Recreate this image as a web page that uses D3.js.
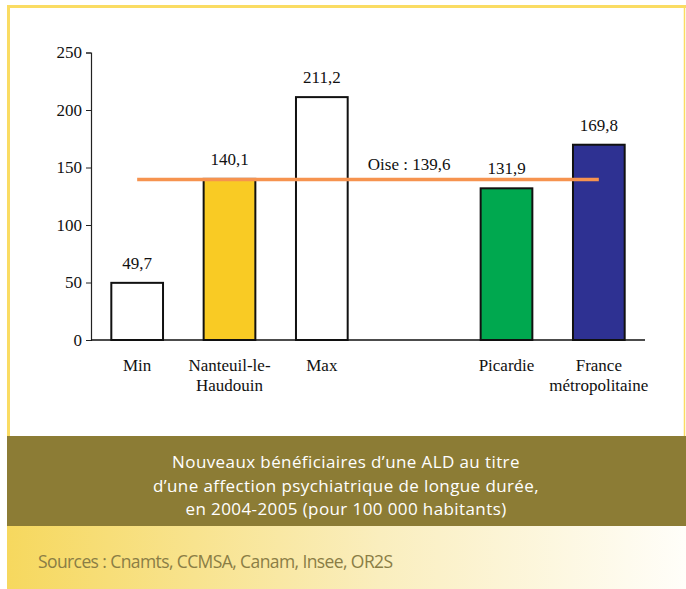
<!DOCTYPE html>
<html>
<head>
<meta charset="utf-8">
<script src="https://cdn.jsdelivr.net/npm/d3@7"></script>
<style>
    body { margin: 0; background: #fff; }
    svg { display: block; }
</style>
</head>
<body>
<div id="chart"></div>
<script>
// data
var categories = ["Min", "Nanteuil-le-Haudouin", "Max", "", "Picardie", "France métropolitaine"];
var labelLines = [["Min"], ["Nanteuil-le-", "Haudouin"], ["Max"], [], ["Picardie"], ["France", "métropolitaine"]];
var values = [49.7, 140.1, 211.2, null, 131.9, 169.8];
var barColors = ["#ffffff", "#f9cb24", "#ffffff", "none", "#00a84f", "#2e3192"];
var oiseValue = 139.6;
var yTicks = [0, 50, 100, 150, 200, 250];
var captionLines = ["Nouveaux bénéficiaires d’une ALD au titre",
    "d’une affection psychiatrique de longue durée,",
    "en 2004-2005 (pour 100 000 habitants)"];
var sourceText = "Sources : Cnamts, CCMSA, Canam, Insee, OR2S";

var width = 686, height = 589;

var svg = d3.select("#chart").append("svg")
    .attr("width", width)
    .attr("height", height);

var defs = svg.append("defs");
var grad = defs.append("linearGradient").attr("id", "srcGrad")
    .attr("x1", "0%").attr("x2", "100%").attr("y1", "0%").attr("y2", "0%");
grad.append("stop").attr("offset", "0%").attr("stop-color", "#f6d85e");
grad.append("stop").attr("offset", "55%").attr("stop-color", "#faeebe");
grad.append("stop").attr("offset", "100%").attr("stop-color", "#fffef9");

// frame
svg.append("path")
    .attr("d", "M8.5,440 L8.5,6.5 L686,6.5")
    .attr("fill", "none")
    .attr("stroke", "#fadc63")
    .attr("stroke-width", 3);
svg.append("line")
    .attr("x1", 684.5).attr("x2", 684.5).attr("y1", 6).attr("y2", 440)
    .attr("stroke", "#fadc63").attr("stroke-width", 1.5);

// caption band
svg.append("rect").attr("x", 7).attr("y", 436).attr("width", width - 7).attr("height", 90)
    .attr("fill", "#8c7c35");
svg.append("g").selectAll("text")
    .data(captionLines)
    .enter().append("text")
    .attr("x", 346)
    .attr("y", function (d, i) { return 468 + i * 23.5; })
    .attr("text-anchor", "middle")
    .attr("fill", "#ffffff")
    .style("font-family", "'Open Sans', sans-serif")
    .style("font-size", "17px")
    .style("letter-spacing", "0.4px")
    .text(function (d) { return d; });

// sources band
svg.append("rect").attr("x", 7).attr("y", 526).attr("width", width - 7).attr("height", height - 526)
    .attr("fill", "url(#srcGrad)");
svg.append("text")
    .attr("x", 38).attr("y", 568)
    .attr("fill", "#8a7d45")
    .style("font-family", "'Open Sans', sans-serif")
    .style("font-size", "17.5px")
    .style("letter-spacing", "-0.6px")
    .text(sourceText);

// chart
var x = d3.scaleBand()
    .domain(categories)
    .range([91, 645])
    .paddingInner(0.44)
    .paddingOuter(0.22);

var y = d3.scaleLinear()
    .domain([0, 250])
    .range([340, 52.5]);

var font = "'Liberation Serif', 'Times New Roman', serif";
var fs = "17px";

var yAxis = svg.append("g")
    .attr("transform", "translate(91,0)")
    .call(d3.axisLeft(y).tickValues(yTicks).tickSize(5).tickPadding(4).tickFormat(d3.format("d")));
yAxis.select(".domain").attr("stroke", "#222").attr("stroke-width", 1.2);
yAxis.selectAll(".tick line").attr("stroke", "#222");
yAxis.selectAll("text")
    .style("font-family", font)
    .style("font-size", fs)
    .attr("fill", "#111");

// bars
var data = categories.map(function (c, i) {
    return { cat: c, value: values[i], color: barColors[i], lines: labelLines[i] };
});
var withValue = data.filter(function (d) { return d.value !== null; });

svg.append("g").selectAll("rect")
    .data(withValue)
    .enter().append("rect")
    .attr("x", function (d) { return x(d.cat); })
    .attr("y", function (d) { return y(d.value); })
    .attr("width", x.bandwidth())
    .attr("height", function (d) { return y(0) - y(d.value); })
    .attr("fill", function (d) { return d.color; })
    .attr("stroke", "#111")
    .attr("stroke-width", 2);

// x baseline
svg.append("line")
    .attr("x1", 91).attr("x2", 645)
    .attr("y1", y(0)).attr("y2", y(0))
    .attr("stroke", "#111").attr("stroke-width", 1.5);

// value labels
svg.append("g").selectAll("text")
    .data(withValue)
    .enter().append("text")
    .attr("x", function (d) { return x(d.cat) + x.bandwidth() / 2; })
    .attr("y", function (d) { return y(d.value) - 14; })
    .attr("text-anchor", "middle")
    .style("font-family", font)
    .style("font-size", fs)
    .attr("fill", "#111")
    .text(function (d) { return d3.format(".1f")(d.value).replace(".", ","); });

// category labels
var cl = svg.append("g").selectAll("text")
    .data(data)
    .enter().append("text")
    .attr("x", function (d) { return x(d.cat) + x.bandwidth() / 2; })
    .attr("y", 371)
    .attr("text-anchor", "middle")
    .style("font-family", font)
    .style("font-size", fs)
    .attr("fill", "#111");
cl.selectAll("tspan")
    .data(function (d) { return d.lines.map(function (l) { return { l: l, x: x(d.cat) + x.bandwidth() / 2 }; }); })
    .enter().append("tspan")
    .attr("x", function (d) { return d.x; })
    .attr("dy", function (d, i) { return i === 0 ? 0 : 20; })
    .text(function (d) { return d.l; });

// Oise reference line
var first = categories[0], last = categories[categories.length - 1];
svg.append("line")
    .attr("x1", x(first) + x.bandwidth() / 2)
    .attr("x2", x(last) + x.bandwidth() / 2)
    .attr("y1", y(oiseValue)).attr("y2", y(oiseValue))
    .attr("stroke", "#f6934f")
    .attr("stroke-width", 3.5);

svg.append("text")
    .attr("x", x("") + x.bandwidth() / 2 - 5)
    .attr("y", y(oiseValue) - 9)
    .attr("text-anchor", "middle")
    .style("font-family", font)
    .style("font-size", fs)
    .attr("fill", "#111")
    .text("Oise : " + d3.format(".1f")(oiseValue).replace(".", ","));
</script>
</body>
</html>
